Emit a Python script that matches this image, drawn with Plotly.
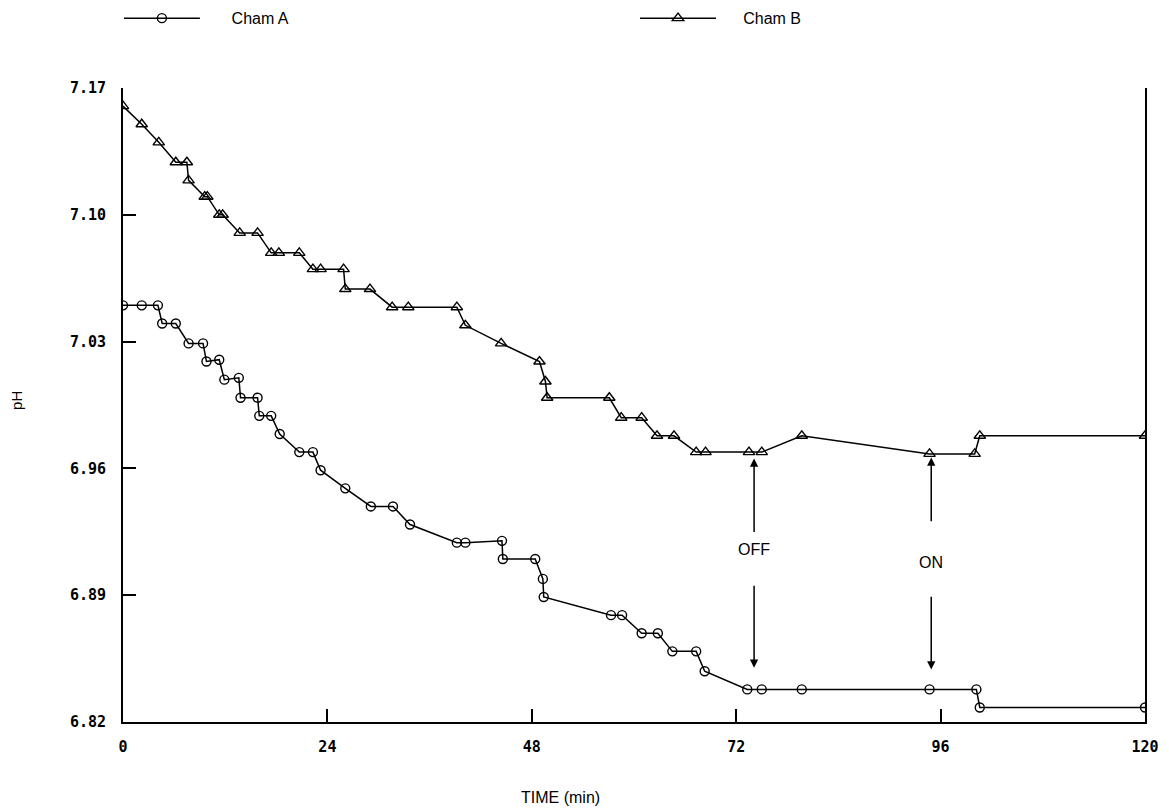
import plotly.graph_objects as go

# ---- data ----
time_a = [0, 2.2, 4.1, 4.6, 6.2, 7.7, 9.4, 9.8, 11.3, 11.9, 13.6, 13.8, 15.8, 16.0,
          17.4, 18.4, 20.7, 22.3, 23.2, 26.1, 29.1, 31.7, 33.7, 39.2, 40.2, 44.5,
          44.6, 48.4, 49.3, 49.4, 57.3, 58.6, 60.9, 62.8, 64.5, 67.3, 68.3, 73.3,
          75.0, 79.7, 94.7, 100.2, 100.6, 120]
ph_a = [7.050, 7.050, 7.050, 7.040, 7.040, 7.029, 7.029, 7.019, 7.020, 7.009, 7.010,
        6.999, 6.999, 6.989, 6.989, 6.979, 6.969, 6.969, 6.959, 6.949, 6.939, 6.939,
        6.929, 6.919, 6.919, 6.920, 6.910, 6.910, 6.899, 6.889, 6.879, 6.879, 6.869,
        6.869, 6.859, 6.859, 6.848, 6.838, 6.838, 6.838, 6.838, 6.838, 6.828, 6.828]

time_b = [0, 2.2, 4.2, 6.2, 7.5, 7.7, 9.6, 9.9, 11.3, 11.7, 13.7, 15.8, 17.4, 18.3,
          20.7, 22.3, 23.2, 25.9, 26.1, 29.0, 31.6, 33.5, 39.2, 40.2, 44.4, 48.9,
          49.6, 49.8, 57.1, 58.5, 60.9, 62.7, 64.7, 67.3, 68.4, 73.5, 75.0, 79.7,
          94.7, 100.0, 100.6, 120]
ph_b = [7.160, 7.150, 7.140, 7.129, 7.129, 7.119, 7.110, 7.110, 7.100, 7.100, 7.090,
        7.090, 7.079, 7.079, 7.079, 7.070, 7.070, 7.070, 7.059, 7.059, 7.049, 7.049,
        7.049, 7.039, 7.029, 7.019, 7.008, 6.999, 6.999, 6.988, 6.988, 6.978, 6.978,
        6.969, 6.969, 6.969, 6.969, 6.978, 6.968, 6.968, 6.978, 6.978]

x_ticks = [0, 24, 48, 72, 96, 120]
y_ticks = [6.82, 6.89, 6.96, 7.03, 7.10, 7.17]
y_tick_text = ["6.82", "6.89", "6.96", "7.03", "7.10", "7.17"]

# events: label, time, upper arrow tail, upper head, text y, lower tail, lower head
events = [
    ("OFF", 74.1, 6.924, 6.9655, 6.915, 6.896, 6.850),
    ("ON", 94.9, 6.930, 6.9660, 6.908, 6.890, 6.849),
]

SANS = "Liberation Sans, Arial, sans-serif"
NB = "\u00a0"

fig = go.Figure()
fig.add_trace(go.Scatter(
    x=time_a, y=ph_a, mode="lines+markers", name=NB * 6 + "Cham A", legend="legend",
    line=dict(color="black", width=1.5),
    marker=dict(symbol="circle-open", size=9, color="black", line=dict(width=1.4)),
))
fig.add_trace(go.Scatter(
    x=time_b, y=ph_b, mode="lines+markers", name=NB * 5 + "Cham B", legend="legend2",
    line=dict(color="black", width=1.5),
    marker=dict(symbol="triangle-up-open", size=10, color="black", line=dict(width=1.4)),
))

annotations = []
for label, t, up_tail, up_head, ty, dn_tail, dn_head in events:
    annotations.append(dict(x=t, y=up_head, ax=t, ay=up_tail, xref="x", yref="y",
                            axref="x", ayref="y", text="", showarrow=True,
                            arrowhead=2, arrowsize=1.1, arrowwidth=1.5, arrowcolor="black"))
    annotations.append(dict(x=t, y=dn_head, ax=t, ay=dn_tail, xref="x", yref="y",
                            axref="x", ayref="y", text="", showarrow=True,
                            arrowhead=2, arrowsize=1.1, arrowwidth=1.5, arrowcolor="black"))
    annotations.append(dict(x=t, y=ty, xref="x", yref="y", text=label, showarrow=False,
                            font=dict(family=SANS, size=16, color="black")))

annotations.append(dict(x=0.428, y=-0.135, xref="paper", yref="paper", text="TIME (min)",
                        showarrow=False, font=dict(family=SANS, size=16, color="black")))
annotations.append(dict(x=-0.114, y=0.508, xref="paper", yref="paper", text="pH",
                        textangle=-90, showarrow=False,
                        font=dict(family=SANS, size=15, color="black")))

legend_common = dict(orientation="h", yanchor="middle", y=1.11, xanchor="left",
                     itemwidth=76, font=dict(family=SANS, size=16, color="black"),
                     bgcolor="rgba(0,0,0,0)", borderwidth=0)

fig.update_layout(
    width=1169, height=812,
    margin=dict(l=123, r=24, t=88, b=90, autoexpand=False),
    paper_bgcolor="white", plot_bgcolor="white",
    showlegend=True,
    legend=dict(x=-0.004, **legend_common),
    legend2=dict(x=0.501, **legend_common),
    annotations=annotations,
    xaxis=dict(range=[0, 120], tickvals=x_ticks, ticks="inside", ticklen=13,
               tickwidth=1.5, tickcolor="black", showline=True, linecolor="black",
               linewidth=1.8, showgrid=False, zeroline=False, mirror=False,
               ticklabelstandoff=10,
               tickfont=dict(family="DejaVu Sans Mono", size=15, color="black",
                             weight="bold")),
    yaxis=dict(range=[6.82, 7.17], tickvals=y_ticks, ticktext=y_tick_text,
               ticks="inside", ticklen=13, tickwidth=1.5, tickcolor="black",
               showline=True, linecolor="black", linewidth=1.8, showgrid=False,
               zeroline=False, mirror=True, ticklabelstandoff=12,
               tickfont=dict(family="DejaVu Sans Mono", size=15, color="black",
                             weight="bold")),
)

fig.write_html(
    "out.html",
    config={"displayModeBar": False},
    post_script="document.body.style.margin='0';document.body.style.overflow='hidden';",
)
